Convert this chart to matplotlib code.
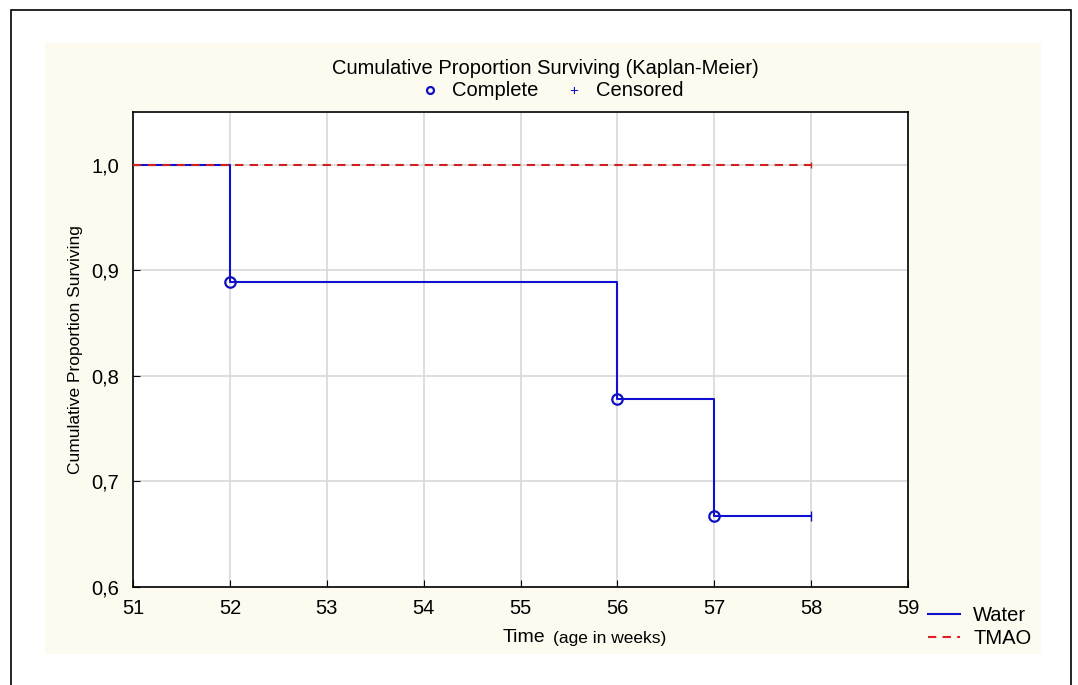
import matplotlib.pyplot as plt
from matplotlib.patches import Rectangle
from matplotlib.lines import Line2D

plt.rcParams['font.family'] = ['Liberation Sans', 'DejaVu Sans']

# Kaplan-Meier steps
water_time = [51, 52, 56, 57, 58]
water_surv = [1.0, 0.889, 0.778, 0.667, 0.667]
water_event_t = [52, 56, 57]
water_event_s = [0.889, 0.778, 0.667]
water_cens_t = [58]
water_cens_s = [0.667]

tmao_time = [51, 58]
tmao_surv = [1.0, 1.0]
tmao_cens_t = [58]
tmao_cens_s = [1.0]

xticks = [51, 52, 53, 54, 55, 56, 57, 58, 59]
yticks = [0.6, 0.7, 0.8, 0.9, 1.0]
ylabels = ['0,6', '0,7', '0,8', '0,9', '1,0']

W, H = 1078, 685
fig = plt.figure(figsize=(W / 100, H / 100), dpi=100)
fig.patch.set_facecolor('white')

# outer frame (bottom edge runs off the image) and beige panel
fig.patches.append(Rectangle((11 / W, -0.05), (1071 - 11) / W, (H - 10) / H + 0.05,
                             transform=fig.transFigure, fill=False, edgecolor='black',
                             linewidth=1.2, zorder=-2))
fig.patches.append(Rectangle((45 / W, (H - 654) / H), (1041 - 45) / W, (654 - 43) / H,
                             transform=fig.transFigure, facecolor='#fdfaf0', edgecolor='none',
                             zorder=-1))

ax = fig.add_axes([133 / W, (H - 587) / H, (908 - 133) / W, (587 - 112) / H])
ax.set_facecolor('white')

ax.step(water_time, water_surv, where='post', color='#1010d0', linewidth=1.5, zorder=3)
ax.plot(tmao_time, tmao_surv, color='#d02020', linestyle=(0, (4, 3)), linewidth=1.5, zorder=4)
ax.plot(water_event_t, water_event_s, linestyle='none', marker='o', markersize=7.5,
        markerfacecolor='none', markeredgecolor='#1010c0', markeredgewidth=1.6, zorder=5)
ax.plot(water_cens_t, water_cens_s, linestyle='none', marker='|', markersize=7,
        color='#1010c0', markeredgewidth=1.0, zorder=5)
ax.plot(tmao_cens_t, tmao_cens_s, linestyle='none', marker='|', markersize=5,
        color='#d02020', markeredgewidth=1.0, zorder=5)

ax.set_xlim(51, 59)
ax.set_ylim(0.6, 1.05)
ax.set_xticks(xticks)
ax.set_yticks(yticks)
ax.set_yticklabels(ylabels)
ax.grid(True, color='#d8d8d8', linewidth=1.2)
ax.set_axisbelow(True)
ax.tick_params(direction='in', length=5, labelsize=14.5, pad=9)
ax.tick_params(axis='y', pad=10)
for s in ax.spines.values():
    s.set_linewidth(1.2)

ax.set_ylabel('Cumulative Proportion Surviving', fontsize=12.5, labelpad=6)

# x label: "Time" plus smaller parenthetical
fig.text(545 / W, 1 - 638 / H, 'Time', ha='right', va='center', fontsize=14)
fig.text(553 / W, 1 - 638 / H, '(age in weeks)', ha='left', va='center', fontsize=12.5)

fig.text(545 / W, 1 - 68 / H, 'Cumulative Proportion Surviving (Kaplan-Meier)',
         ha='center', va='center', fontsize=14.5)
fig.lines.append(Line2D([430 / W], [1 - 90 / H], transform=fig.transFigure, marker='o',
                        markersize=5, markerfacecolor='none', markeredgecolor='#1010c0',
                        markeredgewidth=1.6, linestyle='none'))
fig.text(452 / W, 1 - 91 / H, 'Complete', ha='left', va='center', fontsize=14.5)
fig.text(574 / W, 1 - 91 / H, '+', ha='center', va='center', fontsize=11, color='#1010c0')
fig.text(596 / W, 1 - 91 / H, 'Censored', ha='left', va='center', fontsize=14.5)

handles = [Line2D([], [], color='#1010d0', linewidth=1.5),
           Line2D([], [], color='#e02020', linestyle=(0, (4, 3)), linewidth=1.5)]
fig.legend(handles, ['Water', 'TMAO'], loc='upper left', bbox_to_anchor=(920 / W, 1 - 598 / H),
           frameon=False, fontsize=14.5, handlelength=1.6, handletextpad=0.65,
           labelspacing=0.2, borderaxespad=0)

fig.savefig('out.png', dpi=100)
